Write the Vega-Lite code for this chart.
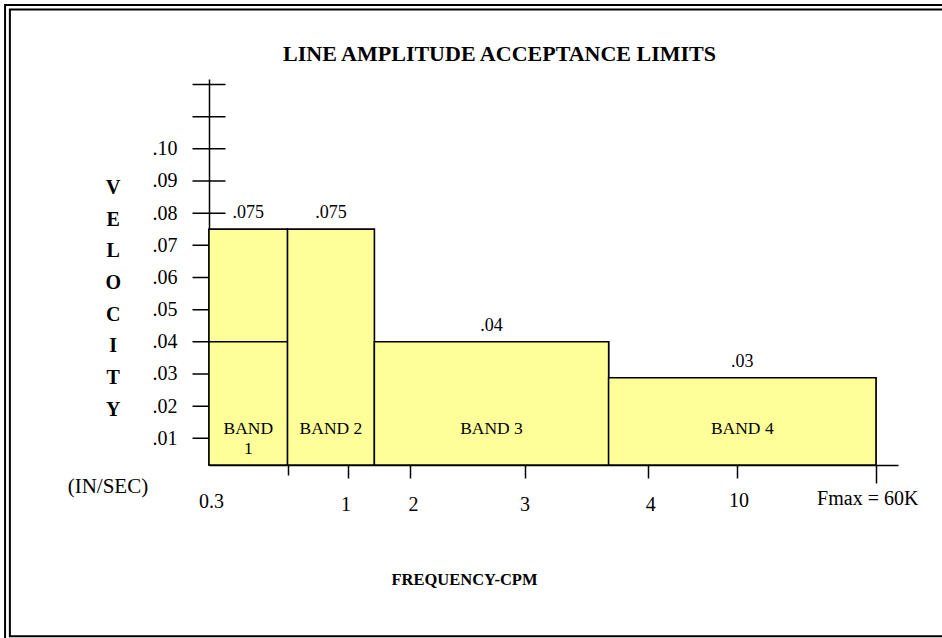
{
  "$schema": "https://vega.github.io/schema/vega-lite/v6.json",
  "width": 689,
  "height": 386,
  "autosize": {"type": "none"},
  "padding": {"left": 209, "top": 79, "right": 44, "bottom": 173},
  "background": "white",
  "config": {"view": {"stroke": null}, "font": "Liberation Serif", "text": {"font": "Liberation Serif", "color": "black"}},
  "title": {"text": "LINE AMPLITUDE ACCEPTANCE LIMITS", "font": "Liberation Serif", "fontSize": 22, "fontWeight": "bold", "color": "black", "anchor": "middle", "frame": "group", "dx": -54, "offset": -62},
  "datasets": {
    "bands": [
      {"band": "BAND\n1", "start": 0, "end": 11.4, "limit": 0.075, "limitLabel": ".075", "split": 0.04},
      {"band": "BAND 2", "start": 11.4, "end": 24.0, "limit": 0.075, "limitLabel": ".075"},
      {"band": "BAND 3", "start": 24.0, "end": 58.0, "limit": 0.04, "limitLabel": ".04"},
      {"band": "BAND 4", "start": 58.0, "end": 96.8, "limit": 0.0288, "limitLabel": ".03"}
    ],
    "yticks": [
      {"v": 0.01}, {"v": 0.02}, {"v": 0.03}, {"v": 0.04}, {"v": 0.05}, {"v": 0.06},
      {"v": 0.07}, {"v": 0.08}, {"v": 0.09}, {"v": 0.10}, {"v": 0.11}, {"v": 0.12}
    ],
    "unit": [{"caption": "(IN/SEC)"}]
  },
  "layer": [
    {
      "data": {"name": "bands"},
      "mark": {"type": "rect", "fill": "#FFFF99", "stroke": "black", "strokeWidth": 1.5},
      "encoding": {
        "x": {
          "field": "start", "type": "quantitative",
          "scale": {"domain": [0, 100], "nice": false, "zero": false},
          "axis": {
            "title": "FREQUENCY-CPM",
            "titleX": 255, "titleY": 119, "titleAlign": "center", "titleBaseline": "alphabetic",
            "titleFont": "Liberation Serif", "titleFontSize": 16.5, "titleFontWeight": "bold", "titleColor": "black",
            "values": [0, 11.4, 20.2, 29.2, 45.8, 63.7, 76.7, 96.8],
            "labelExpr": "datum.value < 5 ? '0.3' : datum.value < 15 ? '' : datum.value < 25 ? '1' : datum.value < 35 ? '2' : datum.value < 50 ? '3' : datum.value < 70 ? '4' : datum.value < 85 ? '10' : 'Fmax = 60K'",
            "labelFont": "Liberation Serif", "labelFontSize": 20, "labelColor": "black",
            "labelAngle": 0, "labelBaseline": "top", "labelAlign": "center",
            "labelOverlap": false, "labelFlush": false, "labelBound": false,
            "tickSize": {"expr": "datum.value < 5 ? 0 : datum.value < 15 ? 10 : datum.value > 90 ? 18 : 13"},
            "labelPadding": {"expr": "datum.value < 5 ? 26 : datum.value < 50 ? 16 : datum.value < 70 ? 16 : datum.value < 85 ? 12 : 5.5"},
            "labelOffset": {"expr": "datum.value < 5 ? 2 : datum.value < 25 ? -2.6 : datum.value < 35 ? 2.7 : datum.value < 50 ? 0 : datum.value < 70 ? 2.3 : datum.value < 85 ? 1 : -8.7"},
            "tickColor": "black", "tickWidth": 1.5,
            "domainColor": "black", "domainWidth": 1.5, "grid": false
          }
        },
        "x2": {"field": "end"},
        "y": {
          "field": "limit", "type": "quantitative",
          "scale": {"domain": [0.0017, 0.1217], "nice": false, "zero": false},
          "axis": {
            "title": ["V", "E", "L", "O", "C", "I", "T", "Y"],
            "titleAngle": 0, "titleX": -96.3, "titleY": 98.5, "titleAlign": "center", "titleBaseline": "top",
            "titleFont": "Liberation Serif", "titleFontSize": 20, "titleFontWeight": "bold", "titleColor": "black",
            "titleLineHeight": 31.66,
            "values": [0.01, 0.02, 0.03, 0.04, 0.05, 0.06, 0.07, 0.08, 0.09, 0.10],
            "labelExpr": "replace(format(datum.value, '.2f'), '0.', '.')",
            "labelFont": "Liberation Serif", "labelFontSize": 20, "labelColor": "black",
            "labelPadding": 32, "ticks": false, "labelOverlap": false, "labelFlush": false, "labelBound": false,
            "domainColor": "black", "domainWidth": 1.5, "grid": false
          }
        },
        "y2": {"datum": 0.0017}
      }
    },
    {
      "data": {"name": "unit"},
      "mark": {"type": "rect", "filled": false, "stroke": "black", "strokeWidth": 2, "clip": false},
      "encoding": {
        "x": {"datum": -29.6, "type": "quantitative"},
        "x2": {"datum": 110},
        "y": {"datum": 0.1447, "type": "quantitative"},
        "y2": {"datum": -0.0530}
      }
    },
    {
      "data": {"name": "unit"},
      "mark": {"type": "rect", "filled": false, "stroke": "black", "strokeWidth": 2, "clip": false},
      "encoding": {
        "x": {"datum": -28.9, "type": "quantitative"},
        "x2": {"datum": 110},
        "y": {"datum": 0.1433, "type": "quantitative"},
        "y2": {"datum": -0.0515}
      }
    },
    {
      "data": {"name": "yticks"},
      "mark": {"type": "tick", "orient": "horizontal", "size": 33, "thickness": 1.5, "color": "black", "opacity": 1, "clip": false},
      "encoding": {
        "x": {"datum": 0, "type": "quantitative"},
        "y": {"field": "v", "type": "quantitative"}
      }
    },
    {
      "data": {"name": "bands"},
      "mark": {"type": "rect", "fill": "#FFFF99", "stroke": "black", "strokeWidth": 1.5},
      "encoding": {
        "x": {"field": "start", "type": "quantitative"},
        "x2": {"field": "end"},
        "y": {"field": "limit", "type": "quantitative"},
        "y2": {"datum": 0.0017}
      }
    },
    {
      "data": {"name": "bands"},
      "transform": [{"filter": "isValid(datum.split)"}],
      "mark": {"type": "rule", "color": "black", "strokeWidth": 1.5},
      "encoding": {
        "x": {"field": "start", "type": "quantitative"},
        "x2": {"field": "end"},
        "y": {"field": "split", "type": "quantitative"}
      }
    },
    {
      "data": {"name": "bands"},
      "transform": [{"calculate": "(datum.start + datum.end) / 2", "as": "mid"}],
      "mark": {"type": "text", "fontSize": 18, "baseline": "middle", "dy": -16, "color": "black", "clip": false},
      "encoding": {
        "x": {"field": "mid", "type": "quantitative"},
        "y": {"field": "limit", "type": "quantitative"},
        "text": {"field": "limitLabel"}
      }
    },
    {
      "data": {"name": "bands"},
      "transform": [{"calculate": "(datum.start + datum.end) / 2", "as": "mid"}],
      "mark": {"type": "text", "fontSize": 17.5, "baseline": "top", "lineBreak": "\n", "lineHeight": 20.6, "color": "black"},
      "encoding": {
        "x": {"field": "mid", "type": "quantitative"},
        "y": {"datum": 0.0158, "type": "quantitative"},
        "text": {"field": "band"}
      }
    },
    {
      "data": {"name": "unit"},
      "mark": {"type": "text", "fontSize": 21, "baseline": "alphabetic", "align": "center", "color": "black", "clip": false},
      "encoding": {
        "x": {"datum": -14.67, "type": "quantitative"},
        "y": {"datum": -0.0070, "type": "quantitative"},
        "text": {"field": "caption"}
      }
    }
  ]
}
